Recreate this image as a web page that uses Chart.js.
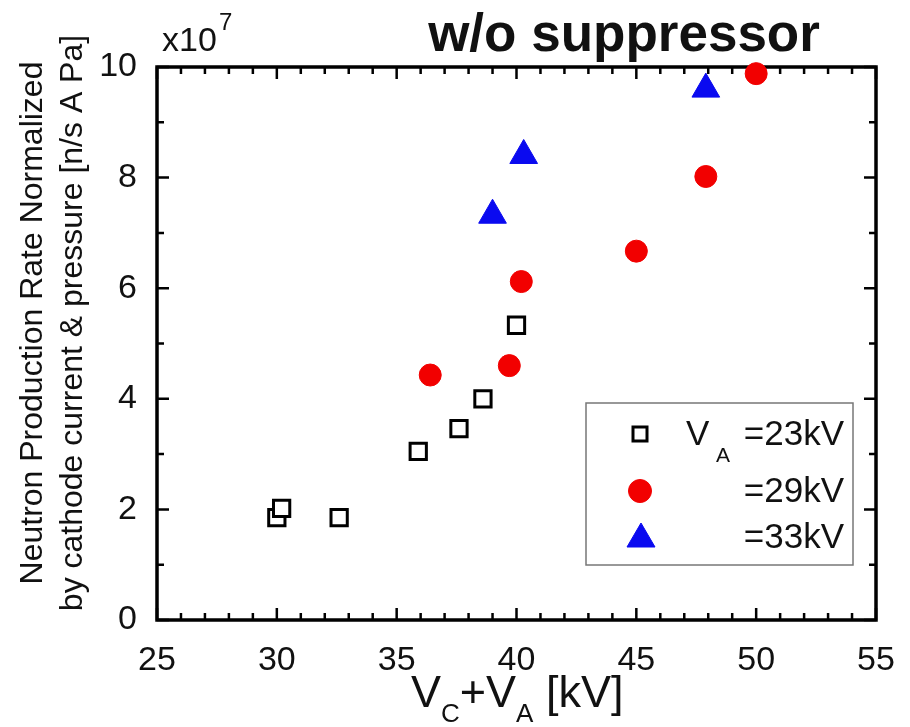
<!DOCTYPE html>
<html>
<head>
<meta charset="utf-8">
<script src="https://cdn.jsdelivr.net/npm/chart.js@4"></script>
<style>
  html, body { margin: 0; padding: 0; background: #fff; }
  #wrap { width: 910px; height: 727px; }
</style>
</head>
<body>
<div id="wrap"><canvas id="grafico" width="910" height="727"></canvas></div>
<script>
// valores (y em unidades de 10^7 n/s A Pa)
const xTicks = [25, 30, 35, 40, 45, 50, 55];
const yTicks = [0, 2, 4, 6, 8, 10];

const va23X = [30.0, 30.2, 32.6, 35.9, 37.6, 38.6, 40.0];
const va23Y = [1.85, 2.02, 1.85, 3.05, 3.46, 4.00, 5.33];

const va29X = [36.4, 39.7, 40.2, 45.0, 47.9, 50.0];
const va29Y = [4.43, 4.60, 6.12, 6.67, 8.02, 9.88];

const va33X = [39.0, 40.3, 47.9];
const va33Y = [7.32, 8.40, 9.60];

const FONT = "'Liberation Sans', Arial, sans-serif";

function pares(xs, ys) {
  return xs.map((x, i) => ({ x: x, y: ys[i] }));
}

// moldura e ticks para dentro, nos quatro lados
const moldura = {
  id: "moldura",
  beforeDatasetsDraw(chart) {
    const { ctx, chartArea: a, scales } = chart;
    const sx = scales.x, sy = scales.y;
    ctx.save();
    ctx.strokeStyle = "#000";
    ctx.lineWidth = 2.5;
    ctx.beginPath();
    for (let v = 25; v <= 55; v++) {
      const px = sx.getPixelForValue(v);
      const len = v % 5 === 0 ? 12 : 7;
      ctx.moveTo(px, a.bottom); ctx.lineTo(px, a.bottom - len);
      ctx.moveTo(px, a.top); ctx.lineTo(px, a.top + len);
    }
    for (let v = 0; v <= 10; v++) {
      const py = sy.getPixelForValue(v);
      const len = v % 2 === 0 ? 12 : 7;
      ctx.moveTo(a.left, py); ctx.lineTo(a.left + len, py);
      ctx.moveTo(a.right, py); ctx.lineTo(a.right - len, py);
    }
    ctx.stroke();
    ctx.lineWidth = 3.5;
    ctx.strokeRect(a.left, a.top, a.right - a.left, a.bottom - a.top);
    ctx.restore();
  }
};

// textos com subscrito, titulo e legenda
const textos = {
  id: "textos",
  afterDraw(chart) {
    const { ctx } = chart;
    ctx.save();
    ctx.fillStyle = "#111";
    ctx.textBaseline = "alphabetic";

    // titulo
    ctx.font = "bold 53px " + FONT;
    ctx.textAlign = "center";
    ctx.fillText("w/o suppressor", 624, 51);

    // multiplicador
    ctx.font = "34px " + FONT;
    ctx.textAlign = "left";
    ctx.fillText("x10", 162, 51);
    ctx.font = "24px " + FONT;
    ctx.fillText("7", 219, 30);

    // titulo do eixo x: VC+VA [kV]
    let x = 411, base = 707;
    const big = "45px " + FONT, small = "26px " + FONT;
    const partes = [["V", big, 0], ["C", small, 15], ["+V", big, 0], ["A", small, 15], [" [kV]", big, 0]];
    partes.forEach(p => {
      ctx.font = p[1];
      ctx.fillText(p[0], x, base + p[2]);
      x += ctx.measureText(p[0]).width;
    });

    // titulo do eixo y (duas linhas)
    ctx.save();
    ctx.translate(0, 323);
    ctx.rotate(-Math.PI / 2);
    ctx.textAlign = "center";
    ctx.font = "32px " + FONT;
    ctx.fillText("Neutron Production Rate Normalized", 0, 42);
    ctx.fillText("by cathode current & pressure [n/s A Pa]", 0, 82);
    ctx.restore();

    // legenda
    ctx.strokeStyle = "#777";
    ctx.lineWidth = 1.5;
    ctx.strokeRect(586, 403, 267, 162);
    const simbolos = chart.data.datasets;
    const linhas = [434, 491, 537];
    simbolos.forEach((ds, i) => {
      const y = linhas[i];
      ctx.beginPath();
      ctx.lineWidth = ds.borderWidth;
      ctx.strokeStyle = ds.borderColor;
      ctx.fillStyle = ds.backgroundColor;
      if (ds.pointStyle === "rect") {
        ctx.rect(633, y - 7, 14, 14);
      } else if (ds.pointStyle === "circle") {
        ctx.arc(640, y, 11.5, 0, Math.PI * 2);
      } else {
        ctx.moveTo(641, y - 14);
        ctx.lineTo(655, y + 10);
        ctx.lineTo(627, y + 10);
        ctx.closePath();
      }
      ctx.fill();
      ctx.stroke();
    });
    ctx.fillStyle = "#111";
    ctx.font = "35px " + FONT;
    ctx.textAlign = "left";
    ctx.fillText("V", 686, 445);
    ctx.font = "21px " + FONT;
    ctx.fillText("A", 716, 462);
    ctx.font = "35px " + FONT;
    ctx.textAlign = "right";
    ctx.fillText("=23kV", 844, 445);
    ctx.fillText("=29kV", 844, 502);
    ctx.fillText("=33kV", 844, 548);
    ctx.restore();
  }
};

new Chart(document.getElementById("grafico"), {
  type: "scatter",
  data: {
    datasets: [
      {
        label: "VA=23kV",
        data: pares(va23X, va23Y),
        pointStyle: "rect",
        pointRadius: 11.5,
        backgroundColor: "#fff",
        borderColor: "#000",
        borderWidth: 3,
        clip: false
      },
      {
        label: "=29kV",
        data: pares(va29X, va29Y),
        pointStyle: "circle",
        pointRadius: 11,
        backgroundColor: "#f20000",
        borderColor: "#f20000",
        borderWidth: 1,
        clip: false
      },
      {
        label: "=33kV",
        data: pares(va33X, va33Y),
        pointStyle: "triangle",
        pointRadius: 16,
        backgroundColor: "#0a0af0",
        borderColor: "#0a0af0",
        borderWidth: 1,
        clip: false
      }
    ]
  },
  options: {
    responsive: false,
    animation: false,
    events: [],
    layout: { padding: { top: 67, right: 34, left: 0, bottom: 0 } },
    plugins: {
      legend: { display: false },
      tooltip: { enabled: false }
    },
    scales: {
      x: {
        type: "linear",
        min: 25,
        max: 55,
        afterBuildTicks: s => { s.ticks = xTicks.map(v => ({ value: v })); },
        afterFit: s => { s.height = 107; },
        grid: { display: false },
        border: { display: false },
        ticks: {
          color: "#111",
          padding: 12,
          maxRotation: 0,
          font: { family: FONT, size: 34 }
        }
      },
      y: {
        type: "linear",
        min: 0,
        max: 10,
        afterBuildTicks: s => { s.ticks = yTicks.map(v => ({ value: v })); },
        afterFit: s => { s.width = 157; },
        grid: { display: false },
        border: { display: false },
        ticks: {
          color: "#111",
          padding: 12,
          font: { family: FONT, size: 34 }
        }
      }
    }
  },
  plugins: [moldura, textos]
});
</script>
</body>
</html>
